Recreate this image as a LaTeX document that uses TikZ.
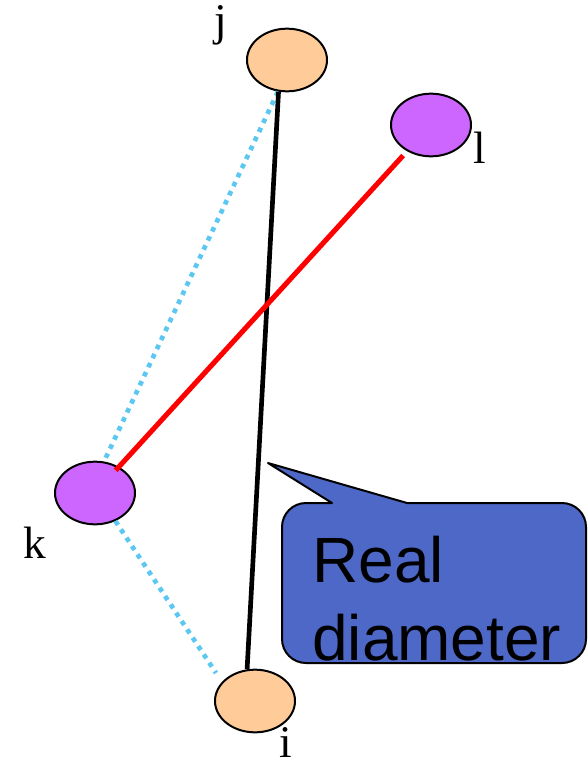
\documentclass[tikz,border=0pt]{standalone}
\usepackage{fontspec}
\setmainfont{Liberation Serif}
\setsansfont{Liberation Sans}
\usetikzlibrary{shapes.geometric}
\definecolor{peach}{RGB}{255,204,153}
\definecolor{violetfill}{RGB}{204,102,255}
\definecolor{dotblue}{RGB}{92,200,242}
\definecolor{callblue}{RGB}{78,104,200}

\begin{document}
\begin{tikzpicture}[x=0.75pt, y=-0.75pt,
      vtx/.style={draw, ellipse, line width=1.5pt, inner sep=0pt,
                  minimum width=60pt, minimum height=47pt},
      far/.style={vtx, fill=peach},
      near/.style={vtx, fill=violetfill},
      lbl/.style={font=\fontsize{34}{40}\selectfont, inner sep=0pt, anchor=base},
      diam/.style={line width=3.5pt, black},
      cut/.style={line width=3.8pt, red},
      dots/.style={line width=3.5pt, dotblue, dash pattern=on 3.5pt off 4pt},
      callbox/.style={draw, fill=callblue, line width=1.5pt, line join=round},
      calltext/.style={font=\sffamily\fontsize{48}{58}\selectfont, align=left,
                       inner sep=0pt}
  ]
    \useasboundingbox (0,0) rectangle (587,767);
    % the four points
    \node[far]  (j) at (287,60)  {};
    \node[near] (l) at (431,125) {};
    \node[near] (k) at (95,493)  {};
    \node[far]  (i) at (255,701) {};
    \node[lbl] (jl) at (221,36)  {j};
    \node[lbl] (ll) at (480,163) {l};
    \node[lbl] (kl) at (35,558)  {k};
    \node[lbl] (il) at (286,757) {i};
    % edges
    \draw[dots] (j.254) -- (k.74);
    \draw[dots, shorten >=8pt] (k.306) -- (i.150);
    \draw[diam] (j.255) -- (i.104);
    \draw[cut, shorten <=31pt, shorten >=23pt] (l.center) -- (k.center);
    % callout
    \coordinate (tip) at (268,463);
    \draw[callbox] (496,503) [rounded corners=18pt] -- (586,503) -- (586,663)
      -- (282,663) -- (282,503) [sharp corners] -- (332,503) -- (tip)
      -- (407,503) -- cycle;
    \node[calltext, anchor=base west] (txt) at (312,660) {Real\\diameter};
\end{tikzpicture}
\end{document}
